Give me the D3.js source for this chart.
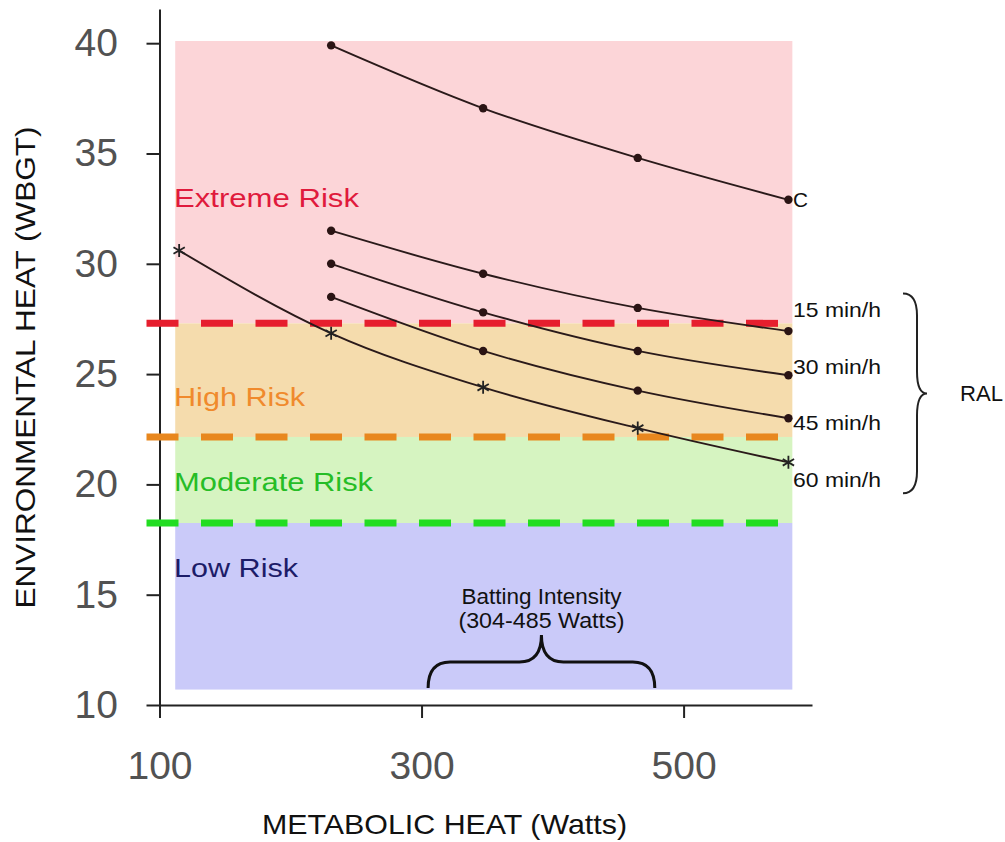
<!DOCTYPE html>
<html>
<head>
<meta charset="utf-8">
<script src="https://cdn.jsdelivr.net/npm/d3@7"></script>
<style>
  body { margin: 0; background: #fff; }
  text { font-family: "Liberation Sans", Arial, sans-serif; }
</style>
</head>
<body>
<script>
// metabolic heat (W) at which the RAL / ceiling curves were computed
var metabolic = [231, 347, 465, 580];
var metabolic60 = [115, 231, 347, 465, 580];

// WBGT values
var ceilingC = [39.9, 37.05, 34.8, 32.9];
var ral15 = [31.5, 29.55, 28.0, 26.95];
var ral30 = [30.0, 27.8, 26.05, 24.95];
var ral45 = [28.5, 26.05, 24.25, 23.0];
var ral60 = [30.6, 26.85, 24.4, 22.55, 21.0];

var curveLabels = ["C", "15 min/h", "30 min/h", "45 min/h", "60 min/h"];

// risk zones (WBGT)
var zoneNames = ["Extreme Risk", "High Risk", "Moderate Risk", "Low Risk"];
var zoneTop = [40.1, 27.3, 22.15, 18.25];
var zoneBottom = [27.3, 22.15, 18.25, 10.7];
var thresholds = [27.3, 22.15, 18.25];
var zoneWatts = [112, 583];

var xTicks = [100, 300, 500];
var yTicks = [10, 15, 20, 25, 30, 35, 40];

var battingSpan = [305, 478];
var ralSpan = [28.65, 19.6];

var width = 1005, height = 842;

var svg = d3.select("body").append("svg")
    .attr("width", width)
    .attr("height", height);

var x = d3.scaleLinear().domain([100, 598]).range([159.5, 812]);
var y = d3.scaleLinear().domain([10, 41.55]).range([705, 9]);

// zone backgrounds
var zoneFill = ["#fcd5d8", "#f5dcad", "#d6f4c1", "#cacaf9"];
svg.selectAll("rect.zone")
    .data(zoneNames)
    .enter().append("rect")
    .attr("class", "zone")
    .attr("x", x(zoneWatts[0]))
    .attr("width", x(zoneWatts[1]) - x(zoneWatts[0]))
    .attr("y", function(d, i){ return y(zoneTop[i]); })
    .attr("height", function(d, i){ return y(zoneBottom[i]) - y(zoneTop[i]); })
    .attr("fill", function(d, i){ return zoneFill[i]; });

// zone labels
var zoneText = ["#e01a3c", "#f08a2c", "#26bd26", "#1c1c68"];
var zoneLabelY = [32.58, 23.55, 19.7, 15.8];
var zoneLabelW = [185, 131, 199, 124];
svg.selectAll("text.zone")
    .data(zoneNames)
    .enter().append("text")
    .attr("class", "zone")
    .attr("x", 174)
    .attr("y", function(d, i){ return y(zoneLabelY[i]); })
    .attr("font-size", 26.5)
    .attr("textLength", function(d, i){ return zoneLabelW[i]; })
    .attr("lengthAdjust", "spacingAndGlyphs")
    .attr("fill", function(d, i){ return zoneText[i]; })
    .text(function(d){ return d; });

// axes
var yAxis = d3.axisLeft(y).tickValues(yTicks).tickSize(13).tickSizeOuter(0).tickPadding(28.5);
var xAxis = d3.axisBottom(x).tickValues(xTicks).tickSize(13).tickSizeOuter(0).tickPadding(33);

var gy = svg.append("g").attr("transform", "translate(" + x.range()[0] + ",0)").call(yAxis);
var gx = svg.append("g").attr("transform", "translate(0," + y.range()[0] + ")").call(xAxis);

[gx, gy].forEach(function(g){
    g.selectAll("path, line").attr("stroke", "#222").attr("stroke-width", 2);
    g.selectAll("text").attr("font-size", 39).attr("fill", "#525252")
        .attr("font-family", "\"Liberation Sans\", Arial, sans-serif");
});

// threshold dashed lines
var dashColor = ["#e61e2e", "#e8871e", "#22dd22"];
svg.selectAll("line.thr")
    .data(thresholds)
    .enter().append("line")
    .attr("class", "thr")
    .attr("x1", x(100) - 13)
    .attr("x2", x(585))
    .attr("y1", function(d){ return y(d); })
    .attr("y2", function(d){ return y(d); })
    .attr("stroke", function(d, i){ return dashColor[i]; })
    .attr("stroke-width", 7)
    .attr("stroke-dasharray", "32,22.5");

// curves
var series = [
    {xs: metabolic, ys: ceilingC, mark: "dot"},
    {xs: metabolic, ys: ral15, mark: "dot"},
    {xs: metabolic, ys: ral30, mark: "dot"},
    {xs: metabolic, ys: ral45, mark: "dot"},
    {xs: metabolic60, ys: ral60, mark: "star"}
];

var line = d3.line()
    .x(function(d){ return x(d[0]); })
    .y(function(d){ return y(d[1]); })
    .curve(d3.curveMonotoneX);

series.forEach(function(s){
    var pts = s.xs.map(function(v, i){ return [v, s.ys[i]]; });
    svg.append("path")
        .datum(pts)
        .attr("fill", "none")
        .attr("stroke", "#2a1a1a")
        .attr("stroke-width", 1.9)
        .attr("d", line);

    if (s.mark === "dot") {
        svg.selectAll(null).data(pts).enter().append("circle")
            .attr("cx", function(d){ return x(d[0]); })
            .attr("cy", function(d){ return y(d[1]); })
            .attr("r", 4.2)
            .attr("fill", "#2a1414");
    } else {
        svg.selectAll(null).data(pts).enter().append("path")
            .attr("transform", function(d){ return "translate(" + x(d[0]) + "," + y(d[1]) + ")"; })
            .attr("d", d3.symbol().type(d3.symbolAsterisk).size(120))
            .attr("fill", "none")
            .attr("stroke", "#222")
            .attr("stroke-width", 1.8);
    }
});

// curve labels on the right
var curveLabelY = [32.9, 27.93, 25.36, 22.79, 20.23];
var curveLabelW = [15, 88, 88, 88, 88];
svg.selectAll("text.cl")
    .data(curveLabels)
    .enter().append("text")
    .attr("class", "cl")
    .attr("x", 793)
    .attr("y", function(d, i){ return y(curveLabelY[i]); })
    .attr("dy", "0.35em")
    .attr("font-size", 21)
    .attr("textLength", function(d, i){ return curveLabelW[i]; })
    .attr("lengthAdjust", "spacingAndGlyphs")
    .attr("fill", "#111")
    .text(function(d){ return d; });

// RAL brace
var bx0 = 903, bxs = 917, bxt = 927, br = 22;
var by1 = y(ralSpan[0]), by2 = y(ralSpan[1]), bym = (by1 + by2) / 2;
var rb = d3.path();
rb.moveTo(bx0, by1);
rb.quadraticCurveTo(bxs, by1, bxs, by1 + br);
rb.lineTo(bxs, bym - br);
rb.quadraticCurveTo(bxs, bym, bxt, bym);
rb.quadraticCurveTo(bxs, bym, bxs, bym + br);
rb.lineTo(bxs, by2 - br);
rb.quadraticCurveTo(bxs, by2, bx0, by2);
svg.append("path").attr("d", rb.toString())
    .attr("fill", "none").attr("stroke", "#222").attr("stroke-width", 2);

svg.append("text")
    .attr("x", 960).attr("y", bym).attr("dy", "0.35em")
    .attr("font-size", 22).attr("fill", "#111")
    .attr("textLength", 43).attr("lengthAdjust", "spacingAndGlyphs")
    .text("RAL");

// batting intensity brace
var ax1 = x(battingSpan[0]), ax2 = x(battingSpan[1]), axm = (ax1 + ax2) / 2;
var ayEnd = 688, ayMid = 662, ayTip = 635, ar = 22;
var bb = d3.path();
bb.moveTo(ax1, ayEnd);
bb.quadraticCurveTo(ax1, ayMid, ax1 + ar, ayMid);
bb.lineTo(axm - ar, ayMid);
bb.quadraticCurveTo(axm, ayMid, axm, ayTip);
bb.quadraticCurveTo(axm, ayMid, axm + ar, ayMid);
bb.lineTo(ax2 - ar, ayMid);
bb.quadraticCurveTo(ax2, ayMid, ax2, ayEnd);
svg.append("path").attr("d", bb.toString())
    .attr("fill", "none").attr("stroke", "#111").attr("stroke-width", 3);

svg.append("text")
    .attr("x", axm).attr("y", 604).attr("text-anchor", "middle")
    .attr("font-size", 22).attr("fill", "#111")
    .attr("textLength", 160).attr("lengthAdjust", "spacingAndGlyphs")
    .text("Batting Intensity");
svg.append("text")
    .attr("x", axm).attr("y", 628).attr("text-anchor", "middle")
    .attr("font-size", 22).attr("fill", "#111")
    .attr("textLength", 166).attr("lengthAdjust", "spacingAndGlyphs")
    .text("(304-485 Watts)");

// axis titles
svg.append("text")
    .attr("x", 444.5).attr("y", 834).attr("text-anchor", "middle")
    .attr("font-size", 28).attr("fill", "#111")
    .attr("textLength", 365).attr("lengthAdjust", "spacingAndGlyphs")
    .text("METABOLIC HEAT (Watts)");

svg.append("text")
    .attr("transform", "translate(35,367.5) rotate(-90)")
    .attr("text-anchor", "middle")
    .attr("font-size", 28).attr("fill", "#111")
    .attr("textLength", 482).attr("lengthAdjust", "spacingAndGlyphs")
    .text("ENVIRONMENTAL HEAT (WBGT)");
</script>
</body>
</html>
